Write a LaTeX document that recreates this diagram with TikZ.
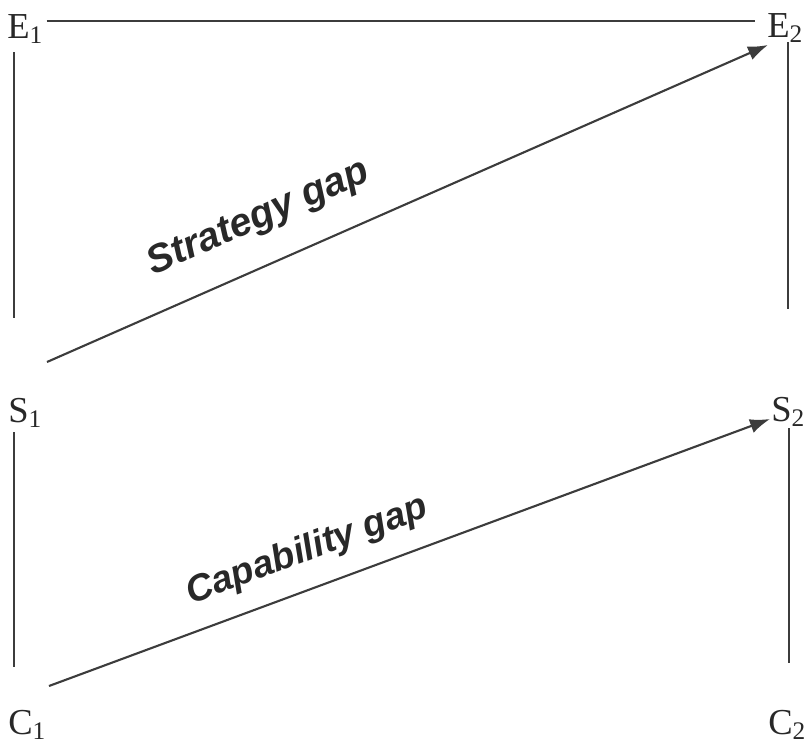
\documentclass[tikz,border=0pt]{standalone}
\usepackage{fontspec}
\setmainfont{Liberation Serif}
\newfontfamily\gapfont{Liberation Sans}
\definecolor{ink}{RGB}{40,40,40}
\definecolor{rulegray}{RGB}{60,60,60}
\usepackage{tikz}
\usetikzlibrary{arrows.meta,calc}
\newcommand\subidx[1]{\raisebox{-4pt}{\fontsize{18}{20}\selectfont #1}}
\tikzset{
  tag/.style={anchor=base west, inner sep=0pt, text=ink,
              font=\fontsize{26}{30}\selectfont},
  rule/.style={rulegray, line width=1.5pt},
  flow/.style={-{Latex[length=5mm,width=3.6mm]}, rulegray, line width=1.5pt},
  gaplabel/.style={sloped, inner sep=0pt, text=ink,
              font=\gapfont\bfseries\itshape\fontsize{#1}{30}\selectfont},
}

\begin{document}
\begin{tikzpicture}[x=0.025cm, y=-0.025cm]
    \useasboundingbox (0,0) rectangle (805,745);
    % corner labels
    \node[tag] (E1) at (7,38)   {E\subidx{1}};
    \node[tag] (E2) at (767,37) {E\subidx{2}};
    \node[tag] (S1) at (8,422)  {S\subidx{1}};
    \node[tag] (S2) at (771,421) {S\subidx{2}};
    \node[tag] (C1) at (8,734)  {C\subidx{1}};
    \node[tag] (C2) at (768,734) {C\subidx{2}};
    % frame lines
    \draw[rule] ($(E1.base east)+(4,-17)$) -- ($(E2.base west)+(-12,-16)$);
    \draw[rule] ($(E1.base west)+(7,14)$) -- ($(S1.base west)+(6,-104)$);
    \draw[rule] ($(S1.base west)+(6,10)$) -- ($(C1.base west)+(6,-67)$);
    \draw[rule] ($(E2.base west)+(21,5)$) -- ($(S2.base west)+(17,-112)$);
    \draw[rule] ($(S2.base west)+(18,7)$) -- ($(C2.base west)+(21,-71)$);
    % gaps
    \draw[flow] ($(S1.base west)+(39,-60)$) -- ($(E2.base west)+(1,8)$)
      node[gaplabel=28, pos=0.319, above=6.8mm] (strat) {Strategy gap};
    \draw[flow] ($(C1.base west)+(41,-48)$) -- ($(S2.base west)+(-1,-2)$)
      node[gaplabel=26.5, pos=0.376, above=4.6mm] (capab) {Capability gap};
\end{tikzpicture}
\end{document}
